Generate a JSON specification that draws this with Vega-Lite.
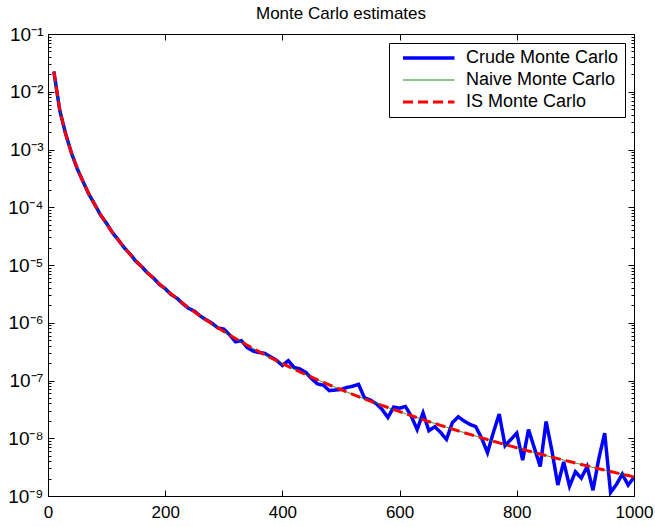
{
  "$schema": "https://vega.github.io/schema/vega-lite/v6.json",
  "width": 586,
  "height": 462,
  "autosize": "none",
  "padding": {"left": 48, "top": 34, "right": 21, "bottom": 31},
  "background": "white",
  "title": {"text": "Monte Carlo estimates", "fontSize": 17, "fontWeight": "normal", "font": "Liberation Sans", "color": "black", "offset": 5, "dy": 16, "baseline": "alphabetic", "frame": "group", "anchor": "middle"},
  "config": {"view": {"stroke": "black", "strokeWidth": 1}, "font": "Liberation Sans"},
  "data": {"values": [
    {"x":10,"Crude Monte Carlo":2.25e-2,"Naive Monte Carlo":2.25e-2,"IS Monte Carlo":2.25e-2},
    {"x":20,"Crude Monte Carlo":4.786e-3,"Naive Monte Carlo":4.827e-3,"IS Monte Carlo":4.827e-3},
    {"x":30,"Crude Monte Carlo":1.884e-3,"Naive Monte Carlo":1.866e-3,"IS Monte Carlo":1.866e-3},
    {"x":40,"Crude Monte Carlo":8.710e-4,"Naive Monte Carlo":8.781e-4,"IS Monte Carlo":8.781e-4},
    {"x":50,"Crude Monte Carlo":4.624e-4,"Naive Monte Carlo":4.677e-4,"IS Monte Carlo":4.677e-4},
    {"x":60,"Crude Monte Carlo":2.754e-4,"Naive Monte Carlo":2.715e-4,"IS Monte Carlo":2.715e-4},
    {"x":70,"Crude Monte Carlo":1.660e-4,"Naive Monte Carlo":1.678e-4,"IS Monte Carlo":1.678e-4},
    {"x":80,"Crude Monte Carlo":1.109e-4,"Naive Monte Carlo":1.090e-4,"IS Monte Carlo":1.090e-4},
    {"x":90,"Crude Monte Carlo":7.244e-5,"Naive Monte Carlo":7.362e-5,"IS Monte Carlo":7.362e-5},
    {"x":100,"Crude Monte Carlo":5.248e-5,"Naive Monte Carlo":5.133e-5,"IS Monte Carlo":5.133e-5},
    {"x":110,"Crude Monte Carlo":3.631e-5,"Naive Monte Carlo":3.677e-5,"IS Monte Carlo":3.677e-5},
    {"x":120,"Crude Monte Carlo":2.723e-5,"Naive Monte Carlo":2.694e-5,"IS Monte Carlo":2.694e-5},
    {"x":130,"Crude Monte Carlo":1.995e-5,"Naive Monte Carlo":2.013e-5,"IS Monte Carlo":2.013e-5},
    {"x":140,"Crude Monte Carlo":1.549e-5,"Naive Monte Carlo":1.530e-5,"IS Monte Carlo":1.530e-5},
    {"x":150,"Crude Monte Carlo":1.161e-5,"Naive Monte Carlo":1.181e-5,"IS Monte Carlo":1.181e-5},
    {"x":160,"Crude Monte Carlo":9.333e-6,"Naive Monte Carlo":9.230e-6,"IS Monte Carlo":9.230e-6},
    {"x":170,"Crude Monte Carlo":7.244e-6,"Naive Monte Carlo":7.303e-6,"IS Monte Carlo":7.303e-6},
    {"x":180,"Crude Monte Carlo":5.957e-6,"Naive Monte Carlo":5.841e-6,"IS Monte Carlo":5.841e-6},
    {"x":190,"Crude Monte Carlo":4.624e-6,"Naive Monte Carlo":4.718e-6,"IS Monte Carlo":4.718e-6},
    {"x":200,"Crude Monte Carlo":3.890e-6,"Naive Monte Carlo":3.844e-6,"IS Monte Carlo":3.844e-6},
    {"x":210,"Crude Monte Carlo":3.090e-6,"Naive Monte Carlo":3.157e-6,"IS Monte Carlo":3.157e-6},
    {"x":220,"Crude Monte Carlo":2.661e-6,"Naive Monte Carlo":2.612e-6,"IS Monte Carlo":2.612e-6},
    {"x":230,"Crude Monte Carlo":2.138e-6,"Naive Monte Carlo":2.176e-6,"IS Monte Carlo":2.176e-6},
    {"x":240,"Crude Monte Carlo":1.778e-6,"Naive Monte Carlo":1.824e-6,"IS Monte Carlo":1.824e-6},
    {"x":250,"Crude Monte Carlo":1.585e-6,"Naive Monte Carlo":1.538e-6,"IS Monte Carlo":1.538e-6},
    {"x":260,"Crude Monte Carlo":1.303e-6,"Naive Monte Carlo":1.304e-6,"IS Monte Carlo":1.304e-6},
    {"x":270,"Crude Monte Carlo":1.122e-6,"Naive Monte Carlo":1.111e-6,"IS Monte Carlo":1.111e-6},
    {"x":280,"Crude Monte Carlo":9.772e-7,"Naive Monte Carlo":9.515e-7,"IS Monte Carlo":9.515e-7},
    {"x":290,"Crude Monte Carlo":8.128e-7,"Naive Monte Carlo":8.182e-7,"IS Monte Carlo":8.182e-7},
    {"x":300,"Crude Monte Carlo":7.762e-7,"Naive Monte Carlo":7.067e-7,"IS Monte Carlo":7.067e-7},
    {"x":310,"Crude Monte Carlo":6.166e-7,"Naive Monte Carlo":6.128e-7,"IS Monte Carlo":6.128e-7},
    {"x":320,"Crude Monte Carlo":4.677e-7,"Naive Monte Carlo":5.332e-7,"IS Monte Carlo":5.332e-7},
    {"x":330,"Crude Monte Carlo":4.898e-7,"Naive Monte Carlo":4.657e-7,"IS Monte Carlo":4.657e-7},
    {"x":340,"Crude Monte Carlo":3.715e-7,"Naive Monte Carlo":4.080e-7,"IS Monte Carlo":4.080e-7},
    {"x":350,"Crude Monte Carlo":3.236e-7,"Naive Monte Carlo":3.587e-7,"IS Monte Carlo":3.587e-7},
    {"x":360,"Crude Monte Carlo":3.055e-7,"Naive Monte Carlo":3.162e-7,"IS Monte Carlo":3.162e-7},
    {"x":370,"Crude Monte Carlo":2.951e-7,"Naive Monte Carlo":2.795e-7,"IS Monte Carlo":2.795e-7},
    {"x":380,"Crude Monte Carlo":2.570e-7,"Naive Monte Carlo":2.479e-7,"IS Monte Carlo":2.479e-7},
    {"x":390,"Crude Monte Carlo":2.239e-7,"Naive Monte Carlo":2.203e-7,"IS Monte Carlo":2.203e-7},
    {"x":400,"Crude Monte Carlo":1.820e-7,"Naive Monte Carlo":1.963e-7,"IS Monte Carlo":1.963e-7},
    {"x":410,"Crude Monte Carlo":2.203e-7,"Naive Monte Carlo":1.753e-7,"IS Monte Carlo":1.753e-7},
    {"x":420,"Crude Monte Carlo":1.679e-7,"Naive Monte Carlo":1.569e-7,"IS Monte Carlo":1.569e-7},
    {"x":430,"Crude Monte Carlo":1.585e-7,"Naive Monte Carlo":1.408e-7,"IS Monte Carlo":1.408e-7},
    {"x":440,"Crude Monte Carlo":1.380e-7,"Naive Monte Carlo":1.266e-7,"IS Monte Carlo":1.266e-7},
    {"x":450,"Crude Monte Carlo":1.072e-7,"Naive Monte Carlo":1.140e-7,"IS Monte Carlo":1.140e-7},
    {"x":460,"Crude Monte Carlo":8.710e-8,"Naive Monte Carlo":1.029e-7,"IS Monte Carlo":1.029e-7},
    {"x":470,"Crude Monte Carlo":8.318e-8,"Naive Monte Carlo":9.300e-8,"IS Monte Carlo":9.300e-8},
    {"x":480,"Crude Monte Carlo":6.683e-8,"Naive Monte Carlo":8.425e-8,"IS Monte Carlo":8.425e-8},
    {"x":490,"Crude Monte Carlo":6.839e-8,"Naive Monte Carlo":7.645e-8,"IS Monte Carlo":7.645e-8},
    {"x":500,"Crude Monte Carlo":6.998e-8,"Naive Monte Carlo":6.945e-8,"IS Monte Carlo":6.945e-8},
    {"x":510,"Crude Monte Carlo":7.586e-8,"Naive Monte Carlo":6.323e-8,"IS Monte Carlo":6.323e-8},
    {"x":520,"Crude Monte Carlo":7.943e-8,"Naive Monte Carlo":5.764e-8,"IS Monte Carlo":5.764e-8},
    {"x":530,"Crude Monte Carlo":8.590e-8,"Naive Monte Carlo":5.260e-8,"IS Monte Carlo":5.260e-8},
    {"x":540,"Crude Monte Carlo":5.012e-8,"Naive Monte Carlo":4.810e-8,"IS Monte Carlo":4.810e-8},
    {"x":550,"Crude Monte Carlo":4.592e-8,"Naive Monte Carlo":4.403e-8,"IS Monte Carlo":4.403e-8},
    {"x":560,"Crude Monte Carlo":3.981e-8,"Naive Monte Carlo":4.036e-8,"IS Monte Carlo":4.036e-8},
    {"x":570,"Crude Monte Carlo":3.162e-8,"Naive Monte Carlo":3.705e-8,"IS Monte Carlo":3.705e-8},
    {"x":580,"Crude Monte Carlo":2.291e-8,"Naive Monte Carlo":3.405e-8,"IS Monte Carlo":3.405e-8},
    {"x":590,"Crude Monte Carlo":3.467e-8,"Naive Monte Carlo":3.133e-8,"IS Monte Carlo":3.133e-8},
    {"x":600,"Crude Monte Carlo":3.311e-8,"Naive Monte Carlo":2.886e-8,"IS Monte Carlo":2.886e-8},
    {"x":610,"Crude Monte Carlo":3.548e-8,"Naive Monte Carlo":2.662e-8,"IS Monte Carlo":2.662e-8},
    {"x":620,"Crude Monte Carlo":2.399e-8,"Naive Monte Carlo":2.458e-8,"IS Monte Carlo":2.458e-8},
    {"x":630,"Crude Monte Carlo":1.413e-8,"Naive Monte Carlo":2.271e-8,"IS Monte Carlo":2.271e-8},
    {"x":640,"Crude Monte Carlo":2.754e-8,"Naive Monte Carlo":2.101e-8,"IS Monte Carlo":2.101e-8},
    {"x":650,"Crude Monte Carlo":1.349e-8,"Naive Monte Carlo":1.946e-8,"IS Monte Carlo":1.946e-8},
    {"x":660,"Crude Monte Carlo":1.585e-8,"Naive Monte Carlo":1.804e-8,"IS Monte Carlo":1.804e-8},
    {"x":670,"Crude Monte Carlo":1.259e-8,"Naive Monte Carlo":1.675e-8,"IS Monte Carlo":1.675e-8},
    {"x":680,"Crude Monte Carlo":9.550e-9,"Naive Monte Carlo":1.555e-8,"IS Monte Carlo":1.555e-8},
    {"x":690,"Crude Monte Carlo":1.862e-8,"Naive Monte Carlo":1.446e-8,"IS Monte Carlo":1.446e-8},
    {"x":700,"Crude Monte Carlo":2.344e-8,"Naive Monte Carlo":1.345e-8,"IS Monte Carlo":1.345e-8},
    {"x":710,"Crude Monte Carlo":1.995e-8,"Naive Monte Carlo":1.253e-8,"IS Monte Carlo":1.253e-8},
    {"x":720,"Crude Monte Carlo":1.738e-8,"Naive Monte Carlo":1.168e-8,"IS Monte Carlo":1.168e-8},
    {"x":730,"Crude Monte Carlo":1.585e-8,"Naive Monte Carlo":1.089e-8,"IS Monte Carlo":1.089e-8},
    {"x":740,"Crude Monte Carlo":1.000e-8,"Naive Monte Carlo":1.017e-8,"IS Monte Carlo":1.017e-8},
    {"x":750,"Crude Monte Carlo":5.623e-9,"Naive Monte Carlo":9.502e-9,"IS Monte Carlo":9.502e-9},
    {"x":760,"Crude Monte Carlo":1.259e-8,"Naive Monte Carlo":8.886e-9,"IS Monte Carlo":8.886e-9},
    {"x":770,"Crude Monte Carlo":2.630e-8,"Naive Monte Carlo":8.313e-9,"IS Monte Carlo":8.313e-9},
    {"x":780,"Crude Monte Carlo":7.413e-9,"Naive Monte Carlo":7.786e-9,"IS Monte Carlo":7.786e-9},
    {"x":790,"Crude Monte Carlo":9.550e-9,"Naive Monte Carlo":7.295e-9,"IS Monte Carlo":7.295e-9},
    {"x":800,"Crude Monte Carlo":1.230e-8,"Naive Monte Carlo":6.841e-9,"IS Monte Carlo":6.841e-9},
    {"x":810,"Crude Monte Carlo":4.169e-9,"Naive Monte Carlo":6.418e-9,"IS Monte Carlo":6.418e-9},
    {"x":820,"Crude Monte Carlo":1.413e-8,"Naive Monte Carlo":6.028e-9,"IS Monte Carlo":6.028e-9},
    {"x":830,"Crude Monte Carlo":6.761e-9,"Naive Monte Carlo":5.662e-9,"IS Monte Carlo":5.662e-9},
    {"x":840,"Crude Monte Carlo":3.236e-9,"Naive Monte Carlo":5.324e-9,"IS Monte Carlo":5.324e-9},
    {"x":850,"Crude Monte Carlo":1.950e-8,"Naive Monte Carlo":5.008e-9,"IS Monte Carlo":5.008e-9},
    {"x":860,"Crude Monte Carlo":6.026e-9,"Naive Monte Carlo":4.714e-9,"IS Monte Carlo":4.714e-9},
    {"x":870,"Crude Monte Carlo":1.549e-9,"Naive Monte Carlo":4.440e-9,"IS Monte Carlo":4.440e-9},
    {"x":880,"Crude Monte Carlo":3.890e-9,"Naive Monte Carlo":4.184e-9,"IS Monte Carlo":4.184e-9},
    {"x":890,"Crude Monte Carlo":1.479e-9,"Naive Monte Carlo":3.946e-9,"IS Monte Carlo":3.946e-9},
    {"x":900,"Crude Monte Carlo":2.630e-9,"Naive Monte Carlo":3.722e-9,"IS Monte Carlo":3.722e-9},
    {"x":910,"Crude Monte Carlo":2.042e-9,"Naive Monte Carlo":3.514e-9,"IS Monte Carlo":3.514e-9},
    {"x":920,"Crude Monte Carlo":3.236e-9,"Naive Monte Carlo":3.319e-9,"IS Monte Carlo":3.319e-9},
    {"x":930,"Crude Monte Carlo":1.259e-9,"Naive Monte Carlo":3.136e-9,"IS Monte Carlo":3.136e-9},
    {"x":940,"Crude Monte Carlo":4.467e-9,"Naive Monte Carlo":2.965e-9,"IS Monte Carlo":2.965e-9},
    {"x":950,"Crude Monte Carlo":1.230e-8,"Naive Monte Carlo":2.805e-9,"IS Monte Carlo":2.805e-9},
    {"x":960,"Crude Monte Carlo":1.148e-9,"Naive Monte Carlo":2.655e-9,"IS Monte Carlo":2.655e-9},
    {"x":970,"Crude Monte Carlo":1.585e-9,"Naive Monte Carlo":2.514e-9,"IS Monte Carlo":2.514e-9},
    {"x":980,"Crude Monte Carlo":2.399e-9,"Naive Monte Carlo":2.381e-9,"IS Monte Carlo":2.381e-9},
    {"x":990,"Crude Monte Carlo":1.549e-9,"Naive Monte Carlo":2.257e-9,"IS Monte Carlo":2.257e-9},
    {"x":1000,"Crude Monte Carlo":2.089e-9,"Naive Monte Carlo":2.140e-9,"IS Monte Carlo":2.140e-9}
  ]},
  "transform": [{"fold": ["Crude Monte Carlo", "Naive Monte Carlo", "IS Monte Carlo"], "as": ["series", "y"]}],
  "layer": [
    {
      "mark": {"type": "line", "clip": true},
      "encoding": {
        "x": {"field": "x", "type": "quantitative", "scale": {"domain": [0, 1000], "nice": false},
          "axis": {"orient": "bottom", "title": null, "values": [0, 200, 400, 600, 800, 1000], "format": "d", "tickSize": -6, "tickWidth": 1, "tickColor": "black", "labelPadding": 14, "labelFontSize": 17, "labelFont": "Liberation Sans", "labelColor": "black", "domain": false, "grid": false, "labelFlush": false}},
        "y": {"field": "y", "type": "quantitative", "scale": {"type": "log", "domain": [1e-9, 1e-1], "nice": false},
          "axis": {"orient": "left", "title": null,
            "values": [1e-9,2e-9,3e-9,4e-9,5e-9,6e-9,7e-9,8e-9,9e-9,1e-8,2e-8,3e-8,4e-8,5e-8,6e-8,7e-8,8e-8,9e-8,1e-7,2e-7,3e-7,4e-7,5e-7,6e-7,7e-7,8e-7,9e-7,1e-6,2e-6,3e-6,4e-6,5e-6,6e-6,7e-6,8e-6,9e-6,1e-5,2e-5,3e-5,4e-5,5e-5,6e-5,7e-5,8e-5,9e-5,1e-4,2e-4,3e-4,4e-4,5e-4,6e-4,7e-4,8e-4,9e-4,1e-3,2e-3,3e-3,4e-3,5e-3,6e-3,7e-3,8e-3,9e-3,1e-2,2e-2,3e-2,4e-2,5e-2,6e-2,7e-2,8e-2,9e-2,1e-1],
            "labelExpr": "abs(log(datum.value)/LN10 - round(log(datum.value)/LN10)) < 0.001 ? '10' + ['⁰','⁻¹','⁻²','⁻³','⁻⁴','⁻⁵','⁻⁶','⁻⁷','⁻⁸','⁻⁹'][-round(log(datum.value)/LN10)] : ''",
            "tickSize": {"condition": {"test": "abs(log(datum.value)/LN10 - round(log(datum.value)/LN10)) < 0.001", "value": -6}, "value": -3},
            "tickWidth": 1, "tickColor": "black", "labelPadding": 11, "labelFontSize": 19, "labelFont": "Liberation Sans", "labelColor": "black", "labelOverlap": false, "labelFlush": false, "domain": false, "grid": false}},
        "color": {"field": "series", "type": "nominal",
          "scale": {"domain": ["Crude Monte Carlo", "Naive Monte Carlo", "IS Monte Carlo"], "range": ["#0000ff", "#008000", "#ff0000"]},
          "legend": {"orient": "top-right", "offset": 9, "title": null, "strokeColor": "black", "fillColor": "white", "padding": 6, "labelFontSize": 18, "labelFont": "Liberation Sans", "labelColor": "black", "symbolType": "M-0.2,0H10.1", "symbolSize": 100, "rowPadding": 4, "labelOffset": 53, "cornerRadius": 0}},
        "strokeDash": {"field": "series", "type": "nominal",
          "scale": {"domain": ["Crude Monte Carlo", "Naive Monte Carlo", "IS Monte Carlo"], "range": [[1, 0], [1, 0], [10, 5]]},
          "legend": {"orient": "top-right", "offset": 9, "title": null}},
        "strokeWidth": {"field": "series", "type": "nominal",
          "scale": {"type": "ordinal", "domain": ["Crude Monte Carlo", "Naive Monte Carlo", "IS Monte Carlo"], "range": [3.5, 0.9, 3]},
          "legend": {"orient": "top-right", "offset": 9, "title": null}}
      }
    },
    {
      "mark": {"type": "line", "opacity": 0},
      "encoding": {
        "x": {"field": "x", "type": "quantitative",
          "axis": {"orient": "top", "title": null, "values": [0, 200, 400, 600, 800, 1000], "tickSize": -6, "tickWidth": 1, "tickColor": "black", "labels": false, "domain": false, "grid": false, "minExtent": 0, "maxExtent": 0}},
        "y": {"field": "y", "type": "quantitative",
          "axis": {"orient": "right", "title": null,
            "values": [1e-9,2e-9,3e-9,4e-9,5e-9,6e-9,7e-9,8e-9,9e-9,1e-8,2e-8,3e-8,4e-8,5e-8,6e-8,7e-8,8e-8,9e-8,1e-7,2e-7,3e-7,4e-7,5e-7,6e-7,7e-7,8e-7,9e-7,1e-6,2e-6,3e-6,4e-6,5e-6,6e-6,7e-6,8e-6,9e-6,1e-5,2e-5,3e-5,4e-5,5e-5,6e-5,7e-5,8e-5,9e-5,1e-4,2e-4,3e-4,4e-4,5e-4,6e-4,7e-4,8e-4,9e-4,1e-3,2e-3,3e-3,4e-3,5e-3,6e-3,7e-3,8e-3,9e-3,1e-2,2e-2,3e-2,4e-2,5e-2,6e-2,7e-2,8e-2,9e-2,1e-1],
            "tickSize": {"condition": {"test": "abs(log(datum.value)/LN10 - round(log(datum.value)/LN10)) < 0.001", "value": -6}, "value": -3},
            "tickWidth": 1, "tickColor": "black", "labels": false, "domain": false, "grid": false, "minExtent": 0, "maxExtent": 0}}
      }
    }
  ],
  "resolve": {"axis": {"x": "independent", "y": "independent"}}
}
